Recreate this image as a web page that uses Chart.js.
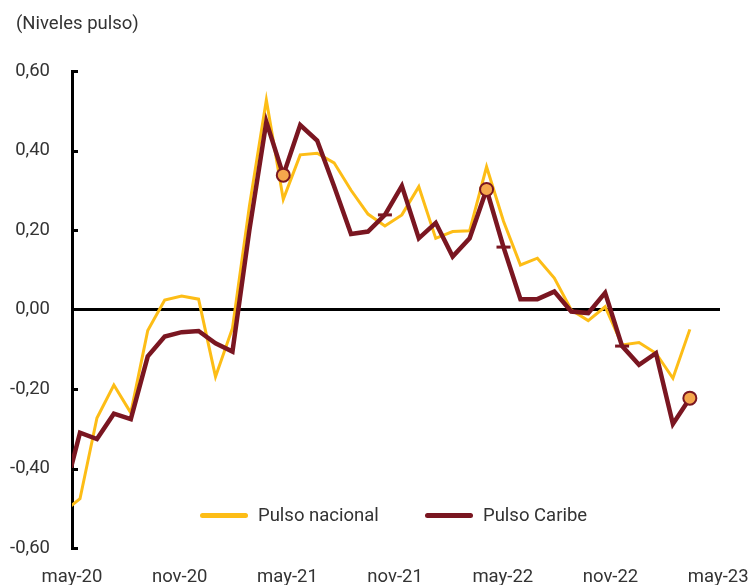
<!DOCTYPE html>
<html>
<head>
<meta charset="utf-8">
<script src="https://cdn.jsdelivr.net/npm/chart.js@4/dist/chart.umd.min.js"></script>
<style>
  html, body { margin: 0; padding: 0; background: #fff; }
  #wrap { position: relative; width: 752px; height: 585px; font-family: Roboto, "Noto Sans", sans-serif; color: #333; }
  #title { position: absolute; left: 16px; top: 12px; font-size: 18.5px; line-height: 22px; }
  #legend { position: absolute; left: 0; top: 504px; height: 22px; width: 752px; font-size: 18.5px; line-height: 22px; }
  .item { position: absolute; top: 0; white-space: nowrap; }
  .swatch { display: inline-block; width: 48px; height: 5px; border-radius: 3px; vertical-align: middle; margin-right: 10px; position: relative; top: -1px; }
  canvas { position: absolute; left: 0; top: 0; }
</style>
</head>
<body>
<div id="wrap">
  <canvas id="c" width="752" height="585"></canvas>
  <div id="title">(Niveles pulso)</div>
  <div id="legend"></div>
</div>
<script>
// ---- data ----
const seriesNames = ['Pulso nacional', 'Pulso Caribe'];
const periods = [-1,0,1,2,3,4,5,6,7,8,9,10,11,12,13,14,15,16,17,18,19,20,21,22,23,24,25,26,27,28,29,30,31,32,33,34,35,36];
const nacional = [-0.51,-0.476,-0.273,-0.19,-0.26,-0.053,0.024,0.034,0.026,-0.169,-0.047,0.26,0.527,0.277,0.389,0.393,0.369,0.30,0.24,0.21,0.238,0.309,0.179,0.196,0.198,0.359,0.222,0.112,0.129,0.079,-0.001,-0.028,0.007,-0.089,-0.083,-0.11,-0.173,-0.05];
const caribe = [-0.475,-0.31,-0.326,-0.262,-0.276,-0.118,-0.068,-0.057,-0.054,-0.085,-0.106,0.20,0.472,0.338,0.464,0.425,0.31,0.19,0.196,0.238,0.311,0.179,0.218,0.133,0.179,0.302,0.157,0.026,0.026,0.045,-0.005,-0.009,0.042,-0.092,-0.139,-0.11,-0.288,-0.223];
const circleMarks = [12, 24, 36];
const dashMarks = [18, 25, 32];
const xTickLabels = ['may-20','nov-20','may-21','nov-21','may-22','nov-22','may-23'];
const xTickMonths = [0, 6, 12, 18, 24, 30, 36];
const yTicks = [-0.6,-0.4,-0.2,0,0.2,0.4,0.6];

const colNac = '#FDBD16';
const colCar = '#7A1621';
const colDot = '#F5A74C';

// legend (HTML)
const legendEl = document.getElementById('legend');
[[seriesNames[0], colNac, 200], [seriesNames[1], colCar, 425]].forEach(([name, col, left]) => {
  const d = document.createElement('div');
  d.className = 'item';
  d.style.left = left + 'px';
  d.innerHTML = '<span class="swatch" style="background:' + col + '"></span>' + name;
  legendEl.appendChild(d);
});

const fmt = v => (Math.round(v * 100) / 100).toFixed(2).replace('.', ',');

const innerTicks = {
  id: 'innerTicks',
  afterDatasetsDraw(chart) {
    const y = chart.scales.y, ctx = chart.ctx, left = chart.chartArea.left;
    ctx.save();
    ctx.strokeStyle = '#000';
    ctx.lineWidth = 3;
    y.ticks.forEach(t => {
      if (Math.abs(t.value) < 1e-9) return;
      const py = Math.round(y.getPixelForValue(t.value)) + 0.5;
      ctx.beginPath();
      ctx.moveTo(left - 1, py);
      ctx.lineTo(left + 6, py);
      ctx.stroke();
    });
    ctx.restore();
  }
};

const mkPts = arr => periods.map((p, i) => ({ x: p, y: arr[i] }));

new Chart(document.getElementById('c'), {
  type: 'line',
  data: {
    datasets: [
      {
        label: seriesNames[0],
        data: mkPts(nacional),
        borderColor: colNac,
        borderWidth: 3,
        pointRadius: 0,
        tension: 0,
        clip: 0,
        order: 1,
        xAxisID: 'x',
      },
      {
        label: seriesNames[1],
        data: mkPts(caribe),
        borderColor: colCar,
        borderWidth: 4.5,
        tension: 0,
        clip: 0,
        order: 0,
        xAxisID: 'x',
        pointStyle: c => dashMarks.includes(c.raw && c.raw.x) ? 'line' : 'circle',
        pointRadius: c => {
          const x = c.raw && c.raw.x;
          if (circleMarks.includes(x)) return 6.5;
          if (dashMarks.includes(x)) return 7;
          return 0;
        },
        pointBackgroundColor: colDot,
        pointBorderColor: colCar,
        pointBorderWidth: c => dashMarks.includes(c.raw && c.raw.x) ? 3 : 2,
        pointHoverRadius: 0,
      }
    ]
  },
  options: {
    responsive: false,
    animation: false,
    events: [],
    layout: { padding: { left: 0, right: 32, top: 71, bottom: 0 } },
    plugins: { legend: { display: false }, title: { display: false }, tooltip: { enabled: false } },
    scales: {
      x: {
        type: 'linear',
        display: false,
        min: -0.472,
        max: 37.78,
      },
      xl: {
        type: 'linear',
        position: 'bottom',
        min: 0,
        max: 36.1,
        grid: { display: false, drawTicks: false },
        border: { display: false },
        afterBuildTicks: s => { s.ticks = xTickMonths.map(v => ({ value: v })); },
        afterFit: s => { s.height = 37; s.paddingLeft = 0; s.paddingRight = 0; },
        ticks: {
          autoSkip: false,
          maxRotation: 0,
          padding: 18,
          color: '#333',
          font: { family: 'Roboto', size: 18.5 },
          callback: v => xTickLabels[xTickMonths.indexOf(v)] || ''
        }
      },
      y: {
        min: -0.6,
        max: 0.6,
        afterBuildTicks: s => { s.ticks = yTicks.map(v => ({ value: v })); },
        afterFit: s => { s.width = 72; s.paddingTop = 0; s.paddingBottom = 0; },
        border: { display: true, color: '#000', width: 3 },
        grid: {
          drawTicks: false,
          color: c => (c.tick && Math.abs(c.tick.value) < 1e-9) ? '#000' : 'rgba(0,0,0,0)',
          lineWidth: c => (c.tick && Math.abs(c.tick.value) < 1e-9) ? 3 : 0,
        },
        ticks: {
          padding: 22,
          color: '#333',
          font: { family: 'Roboto', size: 18.5 },
          callback: v => fmt(v)
        }
      }
    }
  },
  plugins: [innerTicks]
});
</script>
</body>
</html>
